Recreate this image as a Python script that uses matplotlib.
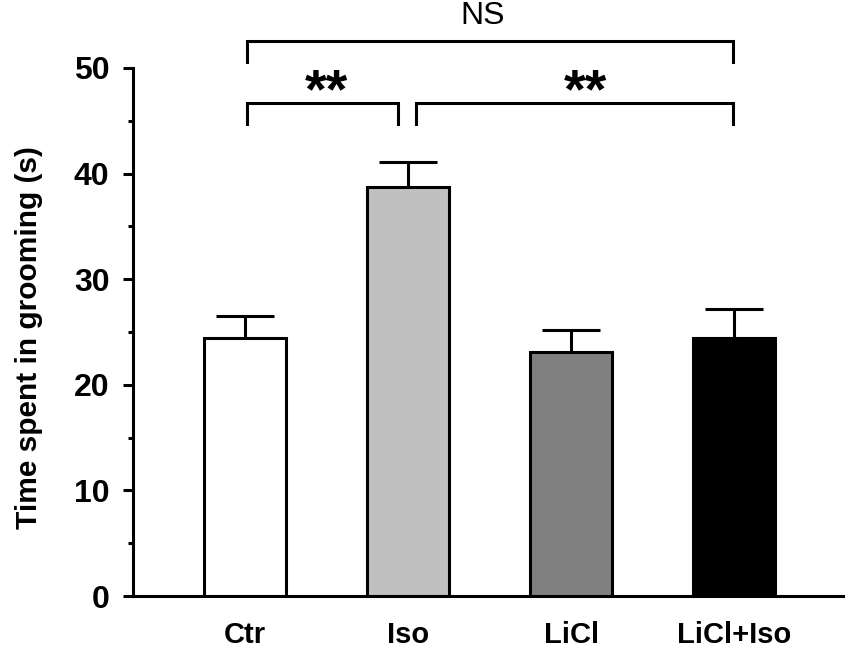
import matplotlib
matplotlib.use("Agg")
import matplotlib.pyplot as plt
from matplotlib.ticker import MultipleLocator

plt.rcParams['font.family'] = ['Liberation Sans', 'DejaVu Sans']

groups = ["Ctr", "Iso", "LiCl", "LiCl+Iso"]
means = [24.4, 38.7, 23.1, 24.4]
sems = [2.1, 2.4, 2.1, 2.8]
colors = ["white", "#c0c0c0", "#808080", "black"]

fig = plt.figure(figsize=(8.5, 6.48), dpi=100)
ax = fig.add_axes([0.1565, 0.0802, 0.8355, 0.8149])

x = list(range(len(groups)))
ax.bar(x, means, width=0.5, color=colors, edgecolor="black", linewidth=2.2, zorder=2)

# upward-only error bars
tops = [m + s for m, s in zip(means, sems)]
ax.vlines(x, means, tops, color="black", linewidth=2.2, zorder=1)
ax.hlines(tops, [i - 0.178 for i in x], [i + 0.178 for i in x], color="black", linewidth=2.2, zorder=1)

ax.set_xlim(-0.687, 3.669)
ax.set_ylim(0, 50)
ax.set_xticks(x)
ax.set_xticklabels(groups, fontsize=21, fontweight="bold")
ax.tick_params(axis="x", length=0, pad=18)
ax.yaxis.set_major_locator(MultipleLocator(10))
ax.yaxis.set_minor_locator(MultipleLocator(5))
ax.tick_params(axis="y", which="major", length=7, width=2.2, pad=10, labelsize=23)
ax.tick_params(axis="y", which="minor", length=3.5, width=2.2)
for lab in ax.get_yticklabels():
    lab.set_fontweight("bold")

ax.set_ylabel("Time spent in grooming (s)", fontsize=21.5, fontweight="bold")
ax.yaxis.set_label_coords(-0.127, 0.49)

for side in ["top", "right"]:
    ax.spines[side].set_visible(False)
for side in ["left", "bottom"]:
    ax.spines[side].set_linewidth(2.2)

# significance brackets
def bracket(x0, x1, y_top, y_bot):
    ax.plot([x0, x0, x1, x1], [y_bot, y_top, y_top, y_bot], color="black",
            linewidth=2.2, clip_on=False, solid_joinstyle="miter")

bracket(0.01, 2.99, 52.6, 50.6)
bracket(0.01, 0.94, 46.7, 44.7)
bracket(1.05, 2.99, 46.7, 44.7)

ax.text(0.5, 47.6, "**", fontsize=40, fontweight="bold", ha="center", va="center", clip_on=False)
ax.text(2.09, 47.6, "**", fontsize=40, fontweight="bold", ha="center", va="center", clip_on=False)
ax.text(1.46, 54.9, "NS", fontsize=23, ha="center", va="center", clip_on=False)

fig.savefig("out.png", dpi=100)
